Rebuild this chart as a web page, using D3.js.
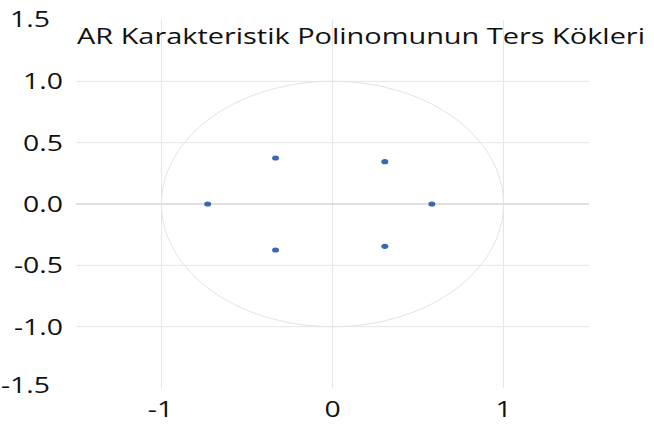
<!DOCTYPE html>
<html><head><meta charset="utf-8">
<script src="https://cdn.jsdelivr.net/npm/d3@7"></script>
<style>body{margin:0;background:#fff}svg{display:block}</style>
</head><body>
<script>
const title = "AR Karakteristik Polinomunun Ters Kökleri";
const rootsRe = [-0.73, -0.333, -0.333, 0.306, 0.306, 0.581];
const rootsIm = [0, 0.375, -0.375, 0.345, -0.345, 0];
const xTicks = [-1, 0, 1];
const yTicks = [-1.5, -1.0, -0.5, 0.0, 0.5, 1.0, 1.5];

const W = 654, H = 426;
const svg = d3.select("body").append("svg").attr("width", W).attr("height", H);
const x = d3.scaleLinear().domain([-1.5, 1.5]).range([76, 589]);
const y = d3.scaleLinear().domain([-1.5, 1.5]).range([388, 20]);
const font = "'Open Sans', sans-serif";
const sx = 1.29;
const fmtY = d => d3.format(".1f")(d).replace("\u2212", "-");
const fmtX = d => d3.format("d")(d).replace("\u2212", "-");

// vertical grid
svg.append("g").selectAll("line").data(xTicks).join("line")
  .attr("x1", d => x(d)).attr("x2", d => x(d)).attr("y1", y(1.5)).attr("y2", y(-1.5))
  .attr("stroke", "#e6e6e6").attr("stroke-width", 1);
// horizontal grid
svg.append("g").selectAll("line").data(yTicks.filter(d => Math.abs(d) < 1.5)).join("line")
  .attr("x1", x(-1.5)).attr("x2", x(1.5)).attr("y1", d => y(d)).attr("y2", d => y(d))
  .attr("stroke", d => d === 0 ? "#bfbfbf" : "#e6e6e6").attr("stroke-width", 1);

// unit circle
const circ = d3.range(0, 361, 2).map(a => [Math.cos(a * Math.PI / 180), Math.sin(a * Math.PI / 180)]);
svg.append("path").datum(circ)
  .attr("d", d3.line().x(d => x(d[0])).y(d => y(d[1])))
  .attr("fill", "none").attr("stroke", "#e3e3e3").attr("stroke-width", 1);

// y labels
svg.append("g").selectAll("g").data(yTicks).join("g")
  .attr("transform", d => `translate(${Math.abs(d) === 1.5 ? 50 : 63},${y(d) + (d === 1.5 ? -1 : d === -1.5 ? -2.5 : 0)}) scale(${sx},1)`)
  .append("text").attr("dy", "0.36em").attr("text-anchor", "end")
  .attr("font-family", font).attr("font-size", 22).attr("fill", "#111")
  .text(fmtY);
// x labels
svg.append("g").selectAll("g").data(xTicks).join("g")
  .attr("transform", d => `translate(${x(d) + (d < 0 ? -1 : 0)},409) scale(${sx},1)`)
  .append("text").attr("dy", "0.36em").attr("text-anchor", "middle")
  .attr("font-family", font).attr("font-size", 22).attr("fill", "#111")
  .text(fmtX);

// title
svg.append("text").attr("x", 77).attr("y", 43.5)
  .attr("textLength", 568).attr("lengthAdjust", "spacingAndGlyphs")
  .attr("font-family", font).attr("font-size", 21.5).attr("fill", "#111").text(title);

// points
svg.append("g").selectAll("ellipse").data(rootsRe.map((r, i) => [r, rootsIm[i]])).join("ellipse")
  .attr("cx", d => x(d[0])).attr("cy", d => y(d[1])).attr("rx", 3.5).attr("ry", 2.6)
  .attr("fill", "#3a67b4");
</script>
</body></html>
